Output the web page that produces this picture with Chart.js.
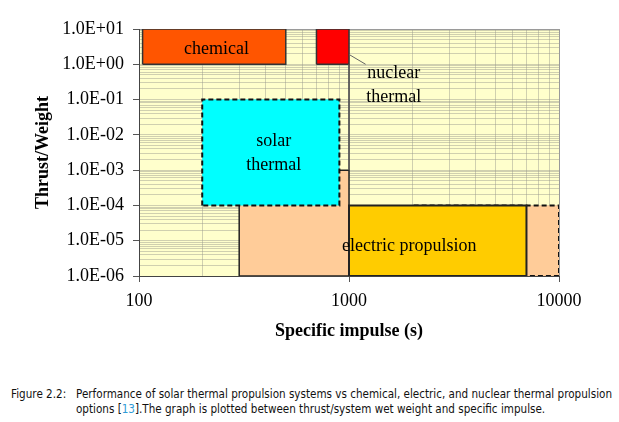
<!DOCTYPE html>
<html>
<head>
<meta charset="utf-8">
<script src="https://cdn.jsdelivr.net/npm/chart.js@4/dist/chart.umd.min.js"></script>
<style>
  html, body { margin: 0; padding: 0; background: #ffffff; }
  #wrap { position: relative; width: 619px; height: 422px; overflow: hidden; }
  #chart { position: absolute; left: 0; top: 0; display: block; }
  .cap { position: absolute; font-family: "DejaVu Sans", Verdana, sans-serif; font-size: 11.5px;
         line-height: 15px; color: #111111; white-space: nowrap; transform-origin: 0 0; }
  .ref { color: #2f9bd6; }
</style>
</head>
<body>
<div id="wrap">
  <canvas id="chart" width="619" height="360"></canvas>
  <div class="cap" id="capLabel" style="left:11px; top:387px;">Figure 2.2:</div>
  <div class="cap" id="capBody" style="left:76px; top:387px;">
    <span id="capL1">Performance of solar thermal propulsion systems vs chemical, electric, and nuclear thermal propulsion</span><br>
    <span id="capL2">options [<span class="ref">13</span>].The graph is plotted between thrust/system wet weight and specific impulse.</span>
  </div>
</div>
<script>
// ---------------- data ----------------
const systems  = ['electric (high Isp)', 'electric (low Isp)', 'electric propulsion', 'solar thermal', 'chemical', 'nuclear thermal'];
const ispMin   = [2000,  300,  1000, 200,  104, 700];
const ispMax   = [10000, 1000, 7000, 900,  500, 1000];
const twMin    = [1e-6,  1e-6, 1e-6, 1e-4, 1,   1];
const twMax    = [1e-4,  1e-3, 1e-4, 1e-1, 10,  10];

// connector lines (x = Isp, y = thrust/weight)
const dividerIsp = [1000, 1000];
const dividerTW  = [1, 1e-3];
const leaderIsp  = [1000, 1200];
const leaderTW   = [1.9, 1.0];

// axis ticks
const xTickValues = [100, 1000, 10000];
const xTickLabels = ['100', '1000', '10000'];
const yTickValues = [1e-6, 1e-5, 1e-4, 1e-3, 1e-2, 1e-1, 1, 10];
const yTickLabels = ['1.0E-06', '1.0E-05', '1.0E-04', '1.0E-03', '1.0E-02', '1.0E-01', '1.0E+00', '1.0E+01'];

// region labels (data coordinates)
const labelTexts = ['chemical', 'nuclear', 'thermal', 'solar', 'thermal', 'electric propulsion'];
const labelIsp   = [234, 1633, 1633, 438, 438, 1936];
const labelTW    = [2.75, 0.54, 0.12, 0.0064, 0.0014, 7.1e-6];

// ---------------- styles ----------------
const fillColors   = ['#FFCC99', '#FFCC99', '#FFCC00', '#00FFFF', '#FF5500', '#FF0000'];
const borderColors = ['#111111', '#222222', '#222222', '#111111', '#333333', '#333333'];
const borderWidths = [2, 1.5, 2, 2, 1.5, 1.5];
const borderDashes = [[5, 3], [], [], [5, 3], [], []];

// ---------------- build ----------------
function rectPoints(i) {
  return [
    {x: ispMin[i], y: twMin[i]},
    {x: ispMin[i], y: twMax[i]},
    {x: ispMax[i], y: twMax[i]},
    {x: ispMax[i], y: twMin[i]},
    {x: ispMin[i], y: twMin[i]}
  ];
}
const datasets = [];
const n = systems.length;
systems.forEach((name, i) => {
  datasets.push({
    label: name,
    data: rectPoints(i),
    showLine: true,
    fill: 'shape',
    backgroundColor: fillColors[i],
    borderColor: borderColors[i],
    borderWidth: borderWidths[i],
    borderDash: borderDashes[i],
    borderJoinStyle: 'miter',
    pointRadius: 0,
    tension: 0,
    order: n + 2 - i
  });
});
datasets.push({
  label: 'divider',
  data: dividerIsp.map((x, k) => ({x, y: dividerTW[k]})),
  showLine: true, fill: false, borderColor: '#555555', borderWidth: 1, pointRadius: 0, order: 1
});
datasets.push({
  label: 'leader',
  data: leaderIsp.map((x, k) => ({x, y: leaderTW[k]})),
  showLine: true, fill: false, borderColor: '#666666', borderWidth: 1, pointRadius: 0, order: 0
});

function isDecade(v) {
  const l = Math.log10(v);
  return Math.abs(l - Math.round(l)) < 1e-9;
}
function logTicks(values) {
  const t = [];
  for (let k = 0; k < values.length - 1; k++) {
    for (let m = 1; m < 10; m++) t.push({value: m === 1 ? values[k] : m * values[k]});
  }
  t.push({value: values[values.length - 1]});
  return t;
}

const plotBackground = {
  id: 'plotBackground',
  beforeDraw(chart) {
    const {ctx, chartArea: a} = chart;
    ctx.save();
    ctx.fillStyle = '#FFFFCC';
    ctx.fillRect(a.left, a.top, a.right - a.left, a.bottom - a.top);
    ctx.restore();
  }
};
const regionLabels = {
  id: 'regionLabels',
  afterDatasetsDraw(chart) {
    const {ctx, scales: {x, y}} = chart;
    ctx.save();
    ctx.fillStyle = '#000000';
    ctx.font = '18px "Liberation Serif", "Times New Roman", serif';
    ctx.textAlign = 'center';
    ctx.textBaseline = 'middle';
    labelTexts.forEach((t, i) => {
      ctx.fillText(t, x.getPixelForValue(labelIsp[i]), y.getPixelForValue(labelTW[i]));
    });
    ctx.restore();
  }
};

Chart.defaults.font.family = '"Liberation Serif", "Times New Roman", serif';
Chart.defaults.color = '#000000';

new Chart(document.getElementById('chart'), {
  type: 'scatter',
  data: {datasets},
  plugins: [plotBackground, regionLabels],
  options: {
    responsive: false,
    animation: false,
    layout: {padding: {top: 29, right: 60, left: 0, bottom: 0}},
    plugins: {legend: {display: false}, tooltip: {enabled: false}},
    scales: {
      x: {
        type: 'logarithmic',
        min: 100, max: 10000,
        afterBuildTicks(s) { s.ticks = logTicks(xTickValues); },
        afterFit(s) { s.height = 84; },
        ticks: {
          autoSkip: false, maxRotation: 0, padding: 8,
          font: {size: 18},
          callback(v) { const k = xTickValues.indexOf(v); return k >= 0 ? xTickLabels[k] : ''; }
        },
        grid: {
          color: c => (c.tick && c.tick.value === 10000) ? '#9a9a9a' : 'rgba(150,150,140,0.45)',
          tickColor: c => (c.tick && isDecade(c.tick.value)) ? '#555555' : 'rgba(0,0,0,0)',
          tickLength: 6
        },
        border: {display: true, color: '#444444', width: 1},
        title: {display: true, text: 'Specific impulse (s)', font: {size: 18, weight: 'bold'}, padding: {top: 0, bottom: 18}}
      },
      y: {
        type: 'logarithmic',
        min: 1e-6, max: 10,
        afterBuildTicks(s) { s.ticks = logTicks(yTickValues); },
        afterFit(s) { s.width = 139; },
        ticks: {
          autoSkip: false, padding: 9,
          font: {size: 18},
          callback(v) { const k = yTickValues.indexOf(v); return k >= 0 ? yTickLabels[k] : ''; }
        },
        grid: {
          color: c => (c.tick && c.tick.value === 10) ? '#9a9a9a' : 'rgba(150,150,140,0.45)',
          tickColor: c => (c.tick && isDecade(c.tick.value)) ? '#555555' : 'rgba(0,0,0,0)',
          tickLength: 6
        },
        border: {display: true, color: '#444444', width: 1},
        title: {display: true, text: 'Thrust/Weight', font: {size: 18, weight: 'bold'}, padding: {top: 33, bottom: 0}}
      }
    }
  }
});

// fit caption lines to the reference widths
(function () {
  const body = document.getElementById('capBody');
  const label = document.getElementById('capLabel');
  const w = document.getElementById('capL1').getBoundingClientRect().width;
  if (w > 0) {
    const s = 536 / w;
    body.style.transform = 'scaleX(' + s + ')';
    label.style.transform = 'scaleX(' + s + ')';
  }
})();
</script>
</body>
</html>
